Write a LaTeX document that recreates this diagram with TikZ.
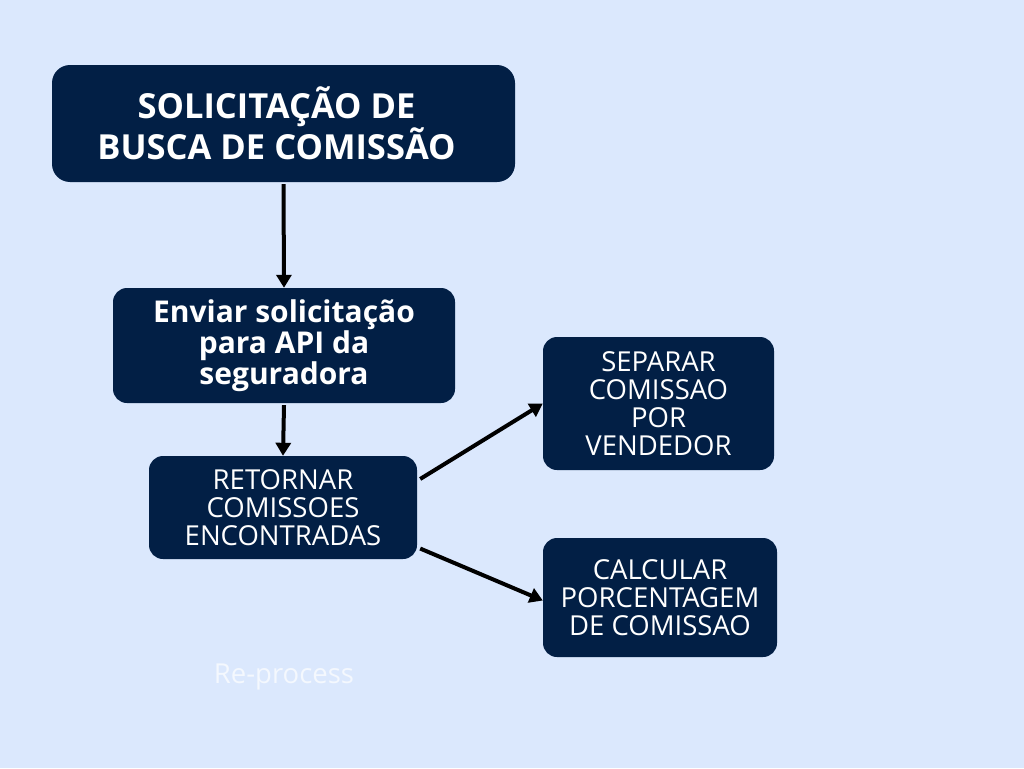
\documentclass[tikz,border=0pt]{standalone}
\usepackage{fontspec}
\setmainfont{Open Sans}
\usetikzlibrary{arrows.meta}
\definecolor{bg}{HTML}{DBE8FD}
\definecolor{navy}{HTML}{021F45}
\begin{document}
\begin{tikzpicture}[x=1pt,y=-1pt,
  box/.style={fill=navy, rounded corners=14pt, text=white, align=center, inner sep=0pt},
  boldtxt/.style={font=\fontsize{30}{31}\selectfont\bfseries},
  lighttxt/.style={font=\fontsize{27.5}{28}\selectfont},
  arr/.style={line width=4pt, -{Triangle[length=13pt,width=15pt]}}]
\fill[bg] (0,0) rectangle (1024,768);
\useasboundingbox (0,0) rectangle (1024,768);
\node[box, minimum width=463pt, minimum height=117pt, rounded corners=18pt,
      font=\fontsize{34.5}{34}\selectfont\bfseries] (title) at (283.5,123.5)
      {\hspace*{-14pt}SOLICITAÇÃO DE\\\hspace*{-14pt}BUSCA DE COMISSÃO};
\node[box, boldtxt, minimum width=342pt, minimum height=115pt] (env) at (284,345.5)
      {Enviar solicitação\\para API da\\seguradora};
\node[box, lighttxt, minimum width=268pt, minimum height=103pt] (ret) at (283,507.5)
      {RETORNAR\\COMISSOES\\ENCONTRADAS};
\node[box, lighttxt, minimum width=231pt, minimum height=133pt] (sep) at (658.5,403.5)
      {SEPARAR\\COMISSAO\\POR\\VENDEDOR};
\node[box, lighttxt, minimum width=234pt, minimum height=119pt] (calc) at (660,597.5)
      {CALCULAR\\PORCENTAGEM\\DE COMISSAO};
\node[text=white!70!bg, font=\fontsize{27.5}{28}\selectfont] (rep) at (284,677) {Re-process};
\draw[arr] ([yshift=-2pt]title.south) -- (env.north);
\draw[arr] ([yshift=-2pt]env.south) -- (ret.north);
\draw[arr] ([xshift=3pt]ret.12) -- (sep.west);
\draw[arr] ([xshift=3pt]ret.-17) -- ([yshift=-3pt]calc.west);
\end{tikzpicture}
\end{document}
